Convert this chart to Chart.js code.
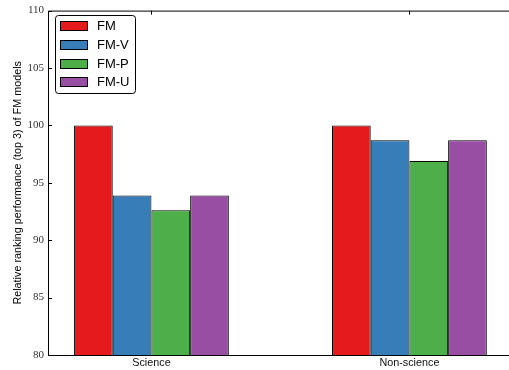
<!DOCTYPE html>
<html>
<head>
<meta charset="utf-8">
<script src="https://cdn.jsdelivr.net/npm/chart.js@4"></script>
<style>
  html, body { margin: 0; padding: 0; background: #fff; overflow: hidden; }
  #wrap { width: 509px; height: 370px; }
</style>
</head>
<body>
<div id="wrap"><canvas id="chart" width="509" height="370"></canvas></div>
<script>
const categories = ['Science', 'Non-science'];
const seriesNames = ['FM', 'FM-V', 'FM-P', 'FM-U'];
const seriesColors = ['#e41a1c', '#377eb8', '#4daf4a', '#984ea3'];
const fmValues  = [100, 100];
const fmvValues = [93.9, 98.7];
const fmpValues = [92.6, 96.9];
const fmuValues = [93.9, 98.7];
const yTicks = [80, 85, 90, 95, 100, 105, 110];

const allValues = [fmValues, fmvValues, fmpValues, fmuValues];
const catPos = categories.map((c, i) => i);

// frame + inward tick marks like the matplotlib original
const framePlugin = {
  id: 'frame',
  afterDraw(chart) {
    const { ctx, chartArea: a, scales } = chart;
    ctx.save();
    ctx.strokeStyle = '#000';
    ctx.lineWidth = 1;
    ctx.beginPath();
    ctx.moveTo(a.right + 2, a.top + 0.5);
    ctx.lineTo(a.left + 0.5, a.top + 0.5);
    ctx.lineTo(a.left + 0.5, a.bottom + 0.5);
    ctx.lineTo(a.right + 2, a.bottom + 0.5);
    ctx.stroke();
    ctx.beginPath();
    yTicks.forEach(v => {
      const y = Math.round(scales.y.getPixelForValue(v)) + 0.5;
      ctx.moveTo(a.left, y);
      ctx.lineTo(a.left + 4, y);
    });
    catPos.forEach(v => {
      const x = Math.round(scales.x.getPixelForValue(v)) + 0.5;
      ctx.moveTo(x, a.top);
      ctx.lineTo(x, a.top + 4);
    });
    ctx.stroke();
    ctx.restore();
  }
};

// legend box in the upper left corner
const legendPlugin = {
  id: 'boxLegend',
  afterDraw(chart) {
    const ctx = chart.ctx;
    const x0 = 55, y0 = 15, w = 80, h = 78;
    ctx.save();
    ctx.fillStyle = '#fff';
    ctx.strokeStyle = '#000';
    ctx.lineWidth = 1;
    ctx.beginPath();
    ctx.roundRect(x0 + 0.5, y0 + 0.5, w, h, 3);
    ctx.fill();
    ctx.stroke();
    ctx.font = '13px "Liberation Sans", Arial, sans-serif';
    ctx.textBaseline = 'middle';
    chart.data.datasets.forEach((ds, i) => {
      const cy = y0 + 10.5 + i * 18.8;
      ctx.fillStyle = ds.backgroundColor;
      ctx.fillRect(x0 + 5.5, Math.round(cy - 4.5) + 0.5, 27, 9);
      ctx.strokeRect(x0 + 5.5, Math.round(cy - 4.5) + 0.5, 27, 9);
      ctx.fillStyle = '#000';
      ctx.fillText(ds.label, x0 + 42, cy + 1);
    });
    ctx.restore();
  }
};

new Chart(document.getElementById('chart'), {
  type: 'bar',
  data: {
    datasets: seriesNames.map((name, s) => ({
      label: name,
      data: catPos.map((x, i) => ({ x, y: allValues[s][i] })),
      backgroundColor: seriesColors[s],
      borderColor: '#000',
      borderWidth: 1,
      borderSkipped: false,
      categoryPercentage: 0.6,
      barPercentage: 1.0
    }))
  },
  options: {
    responsive: false,
    animation: false,
    devicePixelRatio: 1,
    layout: { padding: { top: 9, right: 0, left: 0, bottom: 0 } },
    plugins: {
      legend: { display: false },
      tooltip: { enabled: false }
    },
    scales: {
      x: {
        type: 'linear',
        offset: false,
        min: -0.401,
        max: 1.386,
        grid: { display: false, drawTicks: false },
        border: { display: false },
        afterBuildTicks: (scale) => { scale.ticks = catPos.map(v => ({ value: v })); },
        afterFit: (scale) => { scale.height = 15; },
        ticks: {
          padding: 2,
          color: '#111',
          font: { family: '"Liberation Sans", Arial, sans-serif', size: 10.8 },
          maxRotation: 0,
          callback: (v) => categories[v]
        }
      },
      y: {
        min: 80,
        max: 110,
        grid: { display: false, drawTicks: false },
        border: { display: false },
        afterFit: (scale) => { scale.width = 48; },
        ticks: {
          stepSize: 5,
          padding: 4,
          color: '#333',
          font: { family: '"Liberation Serif", "DejaVu Serif", serif', size: 11 }
        },
        title: {
          display: true,
          text: 'Relative ranking performance (top 3) of FM models',
          color: '#000',
          padding: { top: 12, bottom: 0 },
          font: { family: '"Liberation Sans", Arial, sans-serif', size: 10.8 }
        }
      }
    }
  },
  plugins: [framePlugin, legendPlugin]
});
</script>
</body>
</html>
